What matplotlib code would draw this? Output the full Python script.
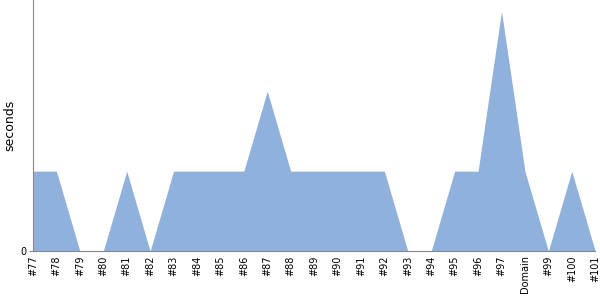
import matplotlib
matplotlib.use('Agg')
import matplotlib.pyplot as plt
import numpy as np

# Build labels and run times
labels = ['#77', '#78', '#79', '#80', '#81', '#82', '#83', '#84', '#85', '#86',
          '#87', '#88', '#89', '#90', '#91', '#92', '#93', '#94', '#95', '#96',
          '#97', 'Domain', '#99', '#100', '#101']
seconds = [1, 1, 0, 0, 1, 0, 1, 1, 1, 1,
           2, 1, 1, 1, 1, 1, 0, 0, 1, 1,
           3, 1, 0, 1, 0]

x = np.arange(len(labels))

fig = plt.figure(figsize=(6, 3), dpi=100)
ax = fig.add_axes([0.055, 0.163, 0.937, 0.837])

ax.fill_between(x, 0, seconds, color='#8FB1DB', linewidth=0)

ax.set_xlim(0, len(labels) - 1)
ax.set_ylim(0, 3.14)
ax.set_xticks(x)
ax.set_xticklabels(labels, rotation=90, fontsize=7)
ax.set_yticks([0])
ax.set_yticklabels(['0'], fontsize=7)
ax.set_ylabel('seconds', fontsize=9)
ax.yaxis.set_label_coords(-0.029, 0.5)

for side in ['top', 'right']:
    ax.spines[side].set_visible(False)
for side in ['left', 'bottom']:
    ax.spines[side].set_color('#888888')
ax.tick_params(axis='x', length=0, pad=3)
ax.tick_params(axis='y', length=3, color='#888888', pad=2)

plt.savefig('out.png', dpi=100)
